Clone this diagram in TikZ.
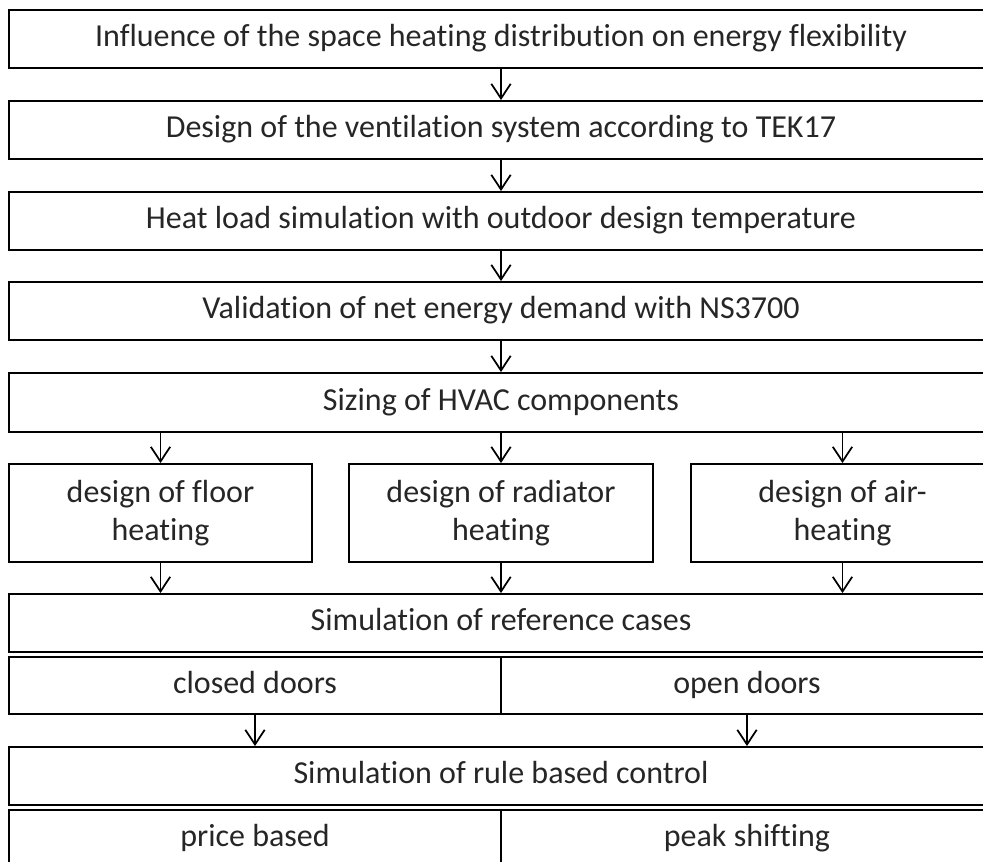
\documentclass[tikz,border=0pt]{standalone}
\usepackage{fontspec}
\setmainfont{Carlito}[Ligatures=NoCommon]
\usetikzlibrary{arrows.meta}

\begin{document}
\begin{tikzpicture}[x=0.75pt,y=0.75pt,yscale=-1,xscale=1,
  stepbox/.style={draw=black, line width=1.4pt, rectangle, inner sep=0pt, align=center,
    font=\fontsize{24}{29}\selectfont, text=black!85},
  oneline/.style={stepbox, text height=17pt, text depth=5pt},
  arr/.style={line width=1.3pt, -{Straight Barb[length=11pt,width=14.5pt,line width=1.3pt]}}]
%set diagram left start at 0, and has height of 862
\useasboundingbox (0,0) rectangle (983,862);
\clip (0,0) rectangle (983,862);

% Main boxes
\node[oneline, minimum width=984*0.75pt, minimum height=58*0.75pt] (infl) at (501,39) {Influence of the space heating distribution on energy flexibility};
\node[oneline, minimum width=984*0.75pt, minimum height=58*0.75pt] (vent) at (501,130) {Design of the ventilation system according to TEK17};
\node[oneline, minimum width=984*0.75pt, minimum height=58*0.75pt] (load) at (501,221) {Heat load simulation with outdoor design temperature};
\node[oneline, minimum width=984*0.75pt, minimum height=58*0.75pt] (valid) at (501,311) {Validation of net energy demand with NS3700};
\node[oneline, minimum width=984*0.75pt, minimum height=59*0.75pt] (sizing) at (501,402.5) {Sizing of HVAC components};

% Heating design boxes
\node[stepbox, minimum width=303*0.75pt, minimum height=98*0.75pt] (floor) at (160.5,513) {design of floor\\heating};
\node[stepbox, minimum width=304*0.75pt, minimum height=98*0.75pt] (radiator) at (501,513) {design of radiator\\heating};
\node[stepbox, minimum width=303*0.75pt, minimum height=98*0.75pt] (airheat) at (842.5,513) {design of air-\\heating};

% Reference cases
\node[oneline, minimum width=984*0.75pt, minimum height=58*0.75pt] (refcase) at (501,623) {Simulation of reference cases};
\node[oneline, minimum width=492*0.75pt, minimum height=57*0.75pt] (closed) at (255,685.5) {closed doors};
\node[oneline, minimum width=492*0.75pt, minimum height=57*0.75pt] (open) at (747,685.5) {open doors};

% Rule based control
\node[oneline, minimum width=984*0.75pt, minimum height=58*0.75pt] (rule) at (501,776) {Simulation of rule based control};
\node[oneline, minimum width=492*0.75pt, minimum height=58*0.75pt] (price) at (255,839) {price based};
\node[oneline, minimum width=492*0.75pt, minimum height=58*0.75pt] (peak) at (747,839) {peak shifting};

% Arrows
\draw[arr] (infl) -- (vent);
\draw[arr] (vent) -- (load);
\draw[arr] (load) -- (valid);
\draw[arr] (valid) -- (sizing);
\draw[arr] (floor |- sizing.south) -- (floor);
\draw[arr] (radiator |- sizing.south) -- (radiator);
\draw[arr] (airheat |- sizing.south) -- (airheat);
\draw[arr] (floor) -- (floor |- refcase.north);
\draw[arr] (radiator) -- (radiator |- refcase.north);
\draw[arr] (airheat) -- (airheat |- refcase.north);
\draw[arr] (closed) -- (closed |- rule.north);
\draw[arr] (open) -- (open |- rule.north);

\end{tikzpicture}
\end{document}
